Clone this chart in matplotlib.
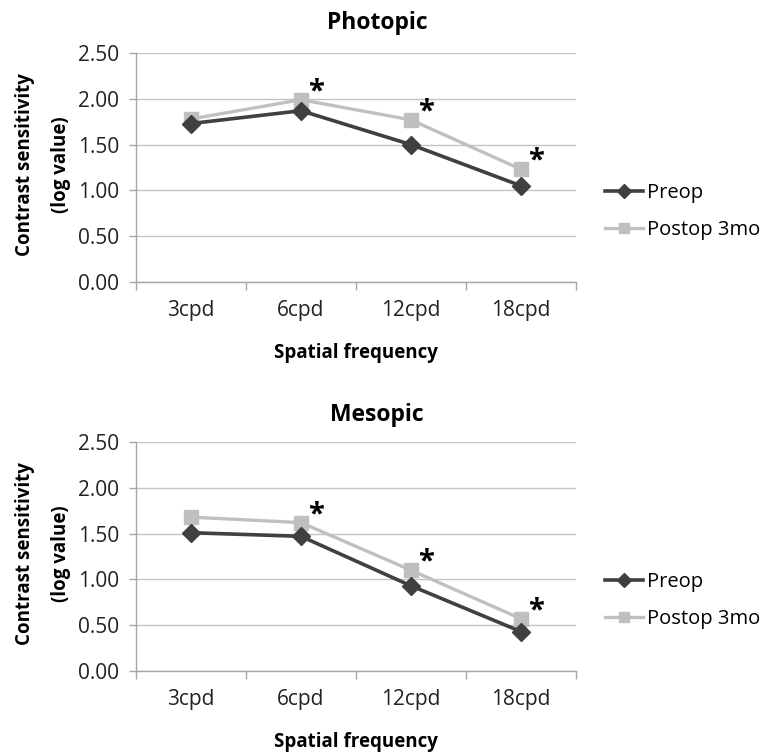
import matplotlib
matplotlib.use("Agg")
import matplotlib.pyplot as plt
from matplotlib.ticker import FixedLocator, FixedFormatter
import numpy as np

plt.rcParams['font.family'] = ['Open Sans', 'DejaVu Sans']

categories = ['3cpd', '6cpd', '12cpd', '18cpd']
photopic_preop = [1.73, 1.87, 1.50, 1.05]
photopic_postop = [1.78, 1.99, 1.77, 1.23]
mesopic_preop = [1.51, 1.47, 0.93, 0.43]
mesopic_postop = [1.68, 1.62, 1.10, 0.57]
significant = [False, True, True, True]
yticks = [0.0, 0.5, 1.0, 1.5, 2.0, 2.5]
series_names = ['Preop', 'Postop 3mo']
titles = ['Photopic', 'Mesopic']

W, H = 771, 755
fig = plt.figure(figsize=(W / 100, H / 100), dpi=100)

PRE_C = '#404040'
POST_C = '#c0c0c0'
GRID_C = '#c4c4c4'
AX_C = '#a6a6a6'

panels = [
    (photopic_preop, photopic_postop, 53, 282, 23),
    (mesopic_preop, mesopic_postop, 442, 671, 415),
]

for (pre, post, top_px, bot_px, title_px), title in zip(panels, titles):
    left_px, right_px = 136, 576
    ax = fig.add_axes([left_px / W, 1 - bot_px / H, (right_px - left_px) / W, (bot_px - top_px) / H])
    x = np.arange(len(categories))
    ax.plot(x, post, color=POST_C, lw=2.4, marker='s', ms=10.5, mfc='#bfbfbf', mec='#bfbfbf',
            label=series_names[1], zorder=3)
    ax.plot(x, pre, color=PRE_C, lw=2.6, marker='D', ms=9, mfc=PRE_C, mec=PRE_C,
            label=series_names[0], zorder=4)
    for xi, yi, sig in zip(x, post, significant):
        if sig:
            ax.annotate('*', xy=(xi, yi), xytext=(15, 8), textcoords='offset pixels',
                        fontsize=21, fontweight='bold', ha='center', va='center', color='black')
    ax.set_xlim(-0.5, len(categories) - 0.5)
    ax.set_ylim(0, 2.5)
    ax.set_yticks(yticks)
    ax.set_yticklabels([f'{v:.2f}' for v in yticks], fontsize=15, color='#222222')
    ax.yaxis.grid(True, color=GRID_C, lw=1.0)
    ax.set_axisbelow(True)
    ax.xaxis.set_major_locator(FixedLocator(np.arange(-0.5, len(categories), 1.0)))
    ax.xaxis.set_major_formatter(FixedFormatter([''] * (len(categories) + 1)))
    ax.xaxis.set_minor_locator(FixedLocator(x))
    ax.xaxis.set_minor_formatter(FixedFormatter(categories))
    ax.tick_params(axis='x', which='major', length=6, color=AX_C, width=1)
    ax.tick_params(axis='x', which='minor', length=0, pad=13, labelsize=15, labelcolor='#222222')
    ax.tick_params(axis='y', length=5, color=AX_C, width=1, pad=7)
    for s in ['top', 'right']:
        ax.spines[s].set_visible(False)
    for s in ['left', 'bottom']:
        ax.spines[s].set_color(AX_C)
        ax.spines[s].set_linewidth(1)

    fig.text(377 / W, 1 - title_px / H, title, fontsize=16.5, fontweight='bold', ha='center', va='center')
    fig.text(356 / W, 1 - (bot_px + 71) / H, 'Spatial frequency', fontsize=13.5, fontweight='bold',
             ha='center', va='center')
    mid = (top_px + bot_px) / 2 - 3
    fig.text(25 / W, 1 - mid / H, 'Contrast sensitivity', fontsize=13.5, fontweight='bold',
             rotation=90, ha='center', va='center')
    fig.text(61 / W, 1 - mid / H, '(log value)', fontsize=13.5, fontweight='bold',
             rotation=90, ha='center', va='center')

    handles, labels = ax.get_legend_handles_labels()
    order = [1, 0]
    leg_y = (top_px + bot_px) / 2 + 44
    ax.legend([handles[i] for i in order], [labels[i] for i in order],
              loc='center left', bbox_to_anchor=(605 / W, 1 - leg_y / H), bbox_transform=fig.transFigure,
              frameon=False, fontsize=14.5, handlelength=1.9, handletextpad=0.2, labelspacing=0.85,
              markerscale=0.75, borderpad=0, borderaxespad=0)

fig.savefig('out.png', dpi=100)
